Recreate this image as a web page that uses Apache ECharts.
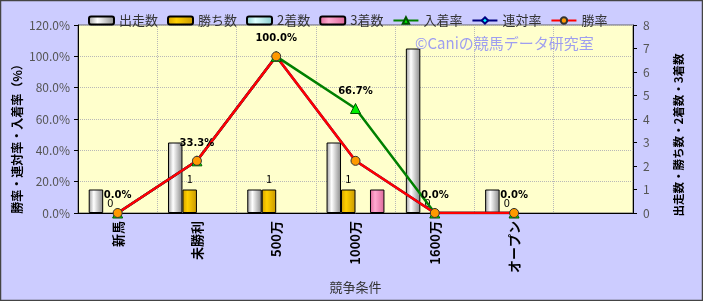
<!DOCTYPE html>
<html><head><meta charset="utf-8">
<script src="https://cdn.jsdelivr.net/npm/echarts@6/dist/echarts.min.js"></script>
<style>html,body{margin:0;padding:0;background:#ccccff}#c{width:703px;height:301px}</style>
</head><body><div id="c"></div>
<script>
const categories = ['新馬','未勝利','500万','1000万','1600万','オープン',''];
const starts   = [1,3,1,3,7,1,null];
const wins     = [0,1,1,1,0,0,null];
const seconds  = [0,0,0,0,0,0,null];
const thirds   = [0,0,0,1,0,0,null];
const top3Rate = [0,33.3,100,66.7,0,0,null];
const top2Rate = [0,33.3,100,33.3,0,0,null];
const winRate  = [0,33.3,100,33.3,0,0,null];
const leftTicks = {min:0,max:120,interval:20};
const rightTicks = {min:0,max:8,interval:1};
const leftName = '勝率・連対率・入着率（%）';
const rightName = '出走数・勝ち数・2着数・3着数';

function grad(a,b,c){return {type:'linear',x:0,y:0,x2:1,y2:0,colorStops:[{offset:0,color:a},{offset:0.35,color:b},{offset:1,color:c}]};}
function hideZero(arr){return arr.map(v=>v===0?{value:0,itemStyle:{borderWidth:0,opacity:0}}:v);}
const font = "'Noto Sans CJK JP', sans-serif";
const chart = echarts.init(document.getElementById('c'));
const barBase = {type:'bar', yAxisIndex:1, barGap:'0%', barCategoryGap:'27%'};
const gridLine = {show:true,lineStyle:{type:'dotted',color:'#b8b8b8'}};
chart.setOption({
  backgroundColor:'#ccccff',
  textStyle:{fontFamily:font},
  animation:false,
  legend:{top:9,left:83,itemWidth:25,itemHeight:8,itemGap:9,textStyle:{fontSize:13,color:'#333',fontFamily:font},
    data:['出走数','勝ち数','2着数','3着数','入着率','連対率','勝率']},
  grid:{left:78,right:70,top:25,bottom:88,show:true,backgroundColor:'#ffffcc',borderColor:'#666',borderWidth:1},
  xAxis:{type:'category',data:categories,name:'競争条件',nameLocation:'middle',nameGap:64,
    nameTextStyle:{fontSize:13,color:'#333'},
    axisLine:{lineStyle:{color:'#000'}},axisTick:{show:false},
    axisLabel:{rotate:90,fontWeight:'bold',color:'#000',fontSize:13,margin:8,interval:0},
    splitLine:gridLine},
  yAxis:[
    {type:'value',min:leftTicks.min,max:leftTicks.max,interval:leftTicks.interval,
     axisLine:{show:true,lineStyle:{color:'#000'}},axisTick:{show:true,length:4},
     axisLabel:{color:'#555',fontSize:12,formatter:v=>v.toFixed(1)+'%'},
     splitLine:gridLine},
    {type:'value',min:rightTicks.min,max:rightTicks.max,interval:rightTicks.interval,position:'right',
     axisLine:{show:true,lineStyle:{color:'#000'}},axisTick:{show:true,length:4},
     axisLabel:{color:'#555',fontSize:12,margin:10},
     splitLine:{show:false}}
  ],
  series:[
    Object.assign({},barBase,{name:'出走数',data:starts,itemStyle:{color:grad('#999','#fff','#888'),borderColor:'#000',borderWidth:1}}),
    Object.assign({},barBase,{name:'勝ち数',data:wins.map(v=>v===0?{value:0,itemStyle:{borderWidth:0}}:v),itemStyle:{color:grad('#d4a000','#ffd000','#c89800'),borderColor:'#000',borderWidth:1},
      label:{show:true,position:'top',fontSize:11,color:'#000',distance:5}}),
    Object.assign({},barBase,{name:'2着数',data:hideZero(seconds),itemStyle:{color:grad('#88cccc','#ddffff','#88cccc'),borderColor:'#000',borderWidth:1}}),
    Object.assign({},barBase,{name:'3着数',data:hideZero(thirds),itemStyle:{color:grad('#dd6699','#ffaad0','#dd6699'),borderColor:'#000',borderWidth:1}}),
    {name:'入着率',type:'line',yAxisIndex:0,data:top3Rate,symbol:'triangle',symbolSize:10,
     lineStyle:{color:'#008000',width:2.5},itemStyle:{color:'#00ee00',borderColor:'#005500',borderWidth:1},
     label:{show:true,position:'top',distance:7,fontSize:10,fontWeight:'bold',color:'#000',fontFamily:'DejaVu Sans',formatter:p=>p.value.toFixed(1)+'%'}},
    {name:'連対率',type:'line',yAxisIndex:0,data:top2Rate,symbol:'diamond',symbolSize:8,
     lineStyle:{color:'#000080',width:2.5},itemStyle:{color:'#00ffff',borderColor:'#000080',borderWidth:1}},
    {name:'勝率',type:'line',yAxisIndex:0,data:winRate,symbol:'circle',symbolSize:9,
     lineStyle:{color:'#ff0000',width:2.5},itemStyle:{color:'#ff9900',borderColor:'#333',borderWidth:1}}
  ],
  graphic:[
    {type:'text',left:415,top:36,z:10,style:{text:'©Caniの競馬データ研究室',fill:'#9e9ef0',fontSize:15,fontFamily:font}},
    {type:'text',x:17,y:136,rotation:Math.PI/2,z:10,style:{text:leftName,fill:'#000',fontSize:12,fontWeight:'bold',fontFamily:font,align:'center',verticalAlign:'middle'}},
    {type:'text',x:679,y:135,rotation:Math.PI/2,z:10,style:{text:rightName,fill:'#000',fontSize:11.5,fontWeight:'bold',fontFamily:font,align:'center',verticalAlign:'middle'}},
    {type:'rect',shape:{x:0.5,y:0.5,width:702,height:300},style:{fill:'none',stroke:'#444',lineWidth:1.5},z:100}
  ]
});
</script></body></html>
